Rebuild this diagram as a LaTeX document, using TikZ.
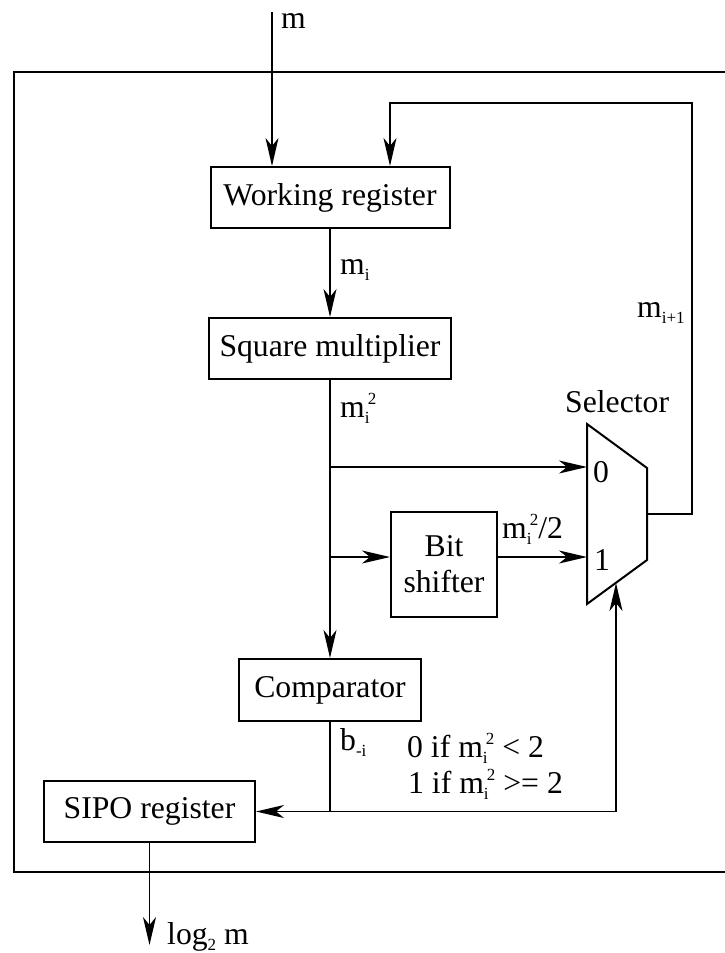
\documentclass[tikz,border=0pt]{standalone}
\usepackage{fontspec}
\setmainfont{Liberation Serif}
\usetikzlibrary{arrows.meta}
\newcommand\subi[1]{\raisebox{-0.2em}{\fontsize{17}{17}\selectfont #1}}
\newcommand\supi[1]{\raisebox{0.38em}{\fontsize{17}{17}\selectfont #1}}
\newcommand\msq{m\makebox[0pt][l]{\subi{i}}\kern3pt\supi{2}}
\begin{document}
\begin{tikzpicture}[x=1pt,y=-1pt,
  font=\fontsize{31.7}{36}\selectfont,
  blk/.style={draw,line width=2pt,inner sep=0pt,align=center},
  conn/.style={line width=1.7pt},
  arr/.style={conn,-{Stealth[length=28pt,width=13pt,inset=8pt]}},
  lbl/.style={anchor=base west,inner sep=0pt}]
\useasboundingbox (0,0) rectangle (725,953);
% outer frame (right side beyond the picture)
\draw[line width=2pt] (725,72) -- (14,72) -- (14,872) -- (725,872);
% blocks
\node[blk,minimum width=239pt,minimum height=61pt] (wr) at (330,197.5) {Working register};
\node[blk,minimum width=242pt,minimum height=61pt] (sq) at (330,348.5) {Square multiplier};
\node[blk,minimum width=106pt,minimum height=105pt] (bs) at (444,564.5) {Bit\\shifter};
\node[blk,minimum width=182pt,minimum height=62pt] (cmp) at (330,690) {Comparator};
\node[blk,minimum width=211pt,minimum height=61pt] (sipo) at (149.5,811.5) {SIPO register};
% selector (mux)
\draw[line width=2pt] (587,424) -- (647,468) -- (647,560) -- (587,604) -- cycle;
\coordinate (in0) at (587,467);
\coordinate (in1) at (587,557);
\coordinate (mout) at (647,514);
\coordinate (msel) at (616,583);
\node[lbl] (sel) at (565,412) {Selector};
\node[lbl] (l0) at (593,482) {0};
\node[lbl] (l1) at (594,570) {1};
% connectors
\coordinate (mtop) at (272,12);
\coordinate (fbx) at (390,0);
\coordinate (j0) at (330,467);
\coordinate (j1) at (330,557);
\coordinate (j2) at (330,811.5);
\coordinate (jr) at (616,811.5);
\coordinate (out) at (149.5,945);
\draw[arr] (mtop) -- (mtop |- wr.north);
\draw[arr] (mout) -- (692,514) -- (692,103) -- (390,103) -- (fbx |- wr.north);
\draw[arr] (wr.south) -- (sq.north);
\draw[arr] (sq.south) -- (cmp.north);
\draw[arr] (j0) -- (in0);
\draw[arr] (j1) -- (j1 -| bs.west);
\draw[arr] (j1 -| bs.east) -- (in1);
\draw[conn] (cmp.south) -- (j2);
\draw[arr] (j2) -- (sipo.east);
\draw[arr] (j2) -- (jr) -- (msel);
\draw[arr] (sipo.south) -- (out);
% labels
\node[lbl] (lm) at (281,28) {m};
\node[lbl] (lmi) at (340,274) {m\subi{i}};
\node[lbl] (lmi1) at (637,317) {m\subi{i+1}};
\node[lbl] (lmsq) at (340,417) {\msq};
\node[lbl] (lhalf) at (502,538) {\msq/2};
\node[lbl] (lb) at (340,750) {b\subi{-i}};
\node[lbl] (lc0) at (407,757) {0 if \msq{} < 2};
\node[lbl] (lc1) at (408,793) {1 if \msq{} >= 2};
\node[lbl] (llog) at (167,944) {log\subi{2} m};
\end{tikzpicture}
\end{document}
